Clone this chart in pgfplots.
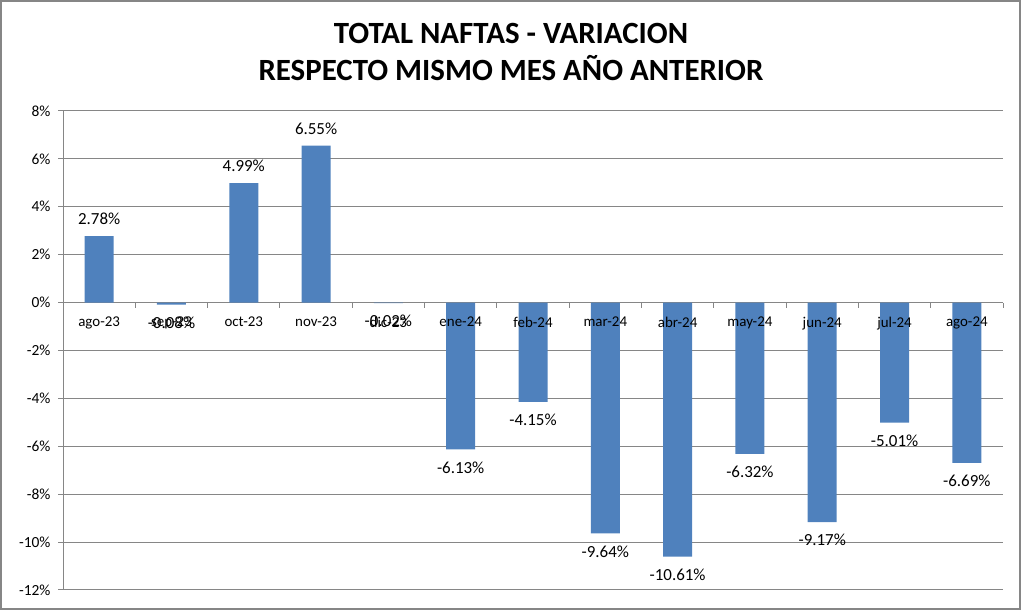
\documentclass[border=0pt]{standalone}
\usepackage{pgfplots}
\pgfplotsset{compat=1.18}
\usepackage{fontspec}
\setmainfont{Carlito}
\definecolor{barblue}{RGB}{79,129,189}
\definecolor{linegray}{RGB}{134,134,134}

\pgfplotstableread{
x y lab
0 2.78 2.78
2 4.99 4.99
3 6.55 6.55
}\pos
\pgfplotstableread{
x y lab
1 -0.08 -0.08
4 -0.02 -0.02
5 -6.13 -6.13
6 -4.15 -4.15
7 -9.64 -9.64
8 -10.61 -10.61
9 -6.32 -6.32
10 -9.17 -9.17
11 -5.01 -5.01
12 -6.69 -6.69
}\negs
% category names, drawn after the bars so that they lie over them
\pgfplotstableread{
x y cat
0 0 ago-23
1 0 sep-23
2 0 oct-23
3 0 nov-23
4 0 dic-23
5 0 ene-24
6 0 feb-24
7 0 mar-24
8 0 abr-24
9 0 may-24
10 0 jun-24
11 0 jul-24
12 0 ago-24
}\cats

\begin{document}
\begin{tikzpicture}
\path[use as bounding box] (0bp,0bp) rectangle (1023bp,611bp);
\draw[linegray, line width=2bp] (1bp,2bp) rectangle (1020bp,610bp);
\node[font=\fontsize{31}{37}\selectfont\bfseries, align=center] at (511bp,559bp)
  {TOTAL NAFTAS - VARIACION\\RESPECTO MISMO MES AÑO ANTERIOR};
\begin{axis}[
  at={(63bp,21bp)}, anchor=south west,
  scale only axis, width=940bp, height=479bp,
  xmin=-0.5, xmax=12.5, ymin=-12, ymax=8,
  axis x line*=middle, axis y line*=left,
  axis line style={linegray, line width=1bp},
  tick align=outside, major tick length=5bp,
  tick style={linegray, line width=1bp},
  ymajorgrids, grid style={linegray, line width=1bp},
  ytick={-12,-10,...,8},
  yticklabels={-12\%,-10\%,-8\%,-6\%,-4\%,-2\%,0\%,2\%,4\%,6\%,8\%},
  xtick={-0.5,0.5,1.5,2.5,3.5,4.5,5.5,6.5,7.5,8.5,9.5,10.5,11.5,12.5},
  xticklabels={},
  yticklabel style={font=\fontsize{15.5}{18}\selectfont, xshift=-4bp},
  ybar, bar width=29bp, bar shift=0pt,
  point meta=explicit symbolic,
  clip=false,
]
\addplot[fill=barblue, draw=none,
  nodes near coords={\pgfplotspointmeta\%},
  every node near coord/.style={font=\fontsize{17}{20}\selectfont, anchor=south, inner sep=0pt, yshift=11bp}]
  table[x=x, y=y, meta=lab] {\pos};
\addplot[fill=barblue, draw=none,
  nodes near coords={\pgfplotspointmeta\%},
  every node near coord/.style={font=\fontsize{17}{20}\selectfont, anchor=north, inner sep=0pt, yshift=-12bp}]
  table[x=x, y=y, meta=lab] {\negs};
\addplot[sharp plot, draw=none, mark=none,
  nodes near coords={\pgfplotspointmeta},
  every node near coord/.style={font=\fontsize{15}{18}\selectfont, anchor=north, inner sep=0pt, yshift=-14bp}]
  table[x=x, y=y, meta=cat] {\cats};
\end{axis}
\end{tikzpicture}
\end{document}
